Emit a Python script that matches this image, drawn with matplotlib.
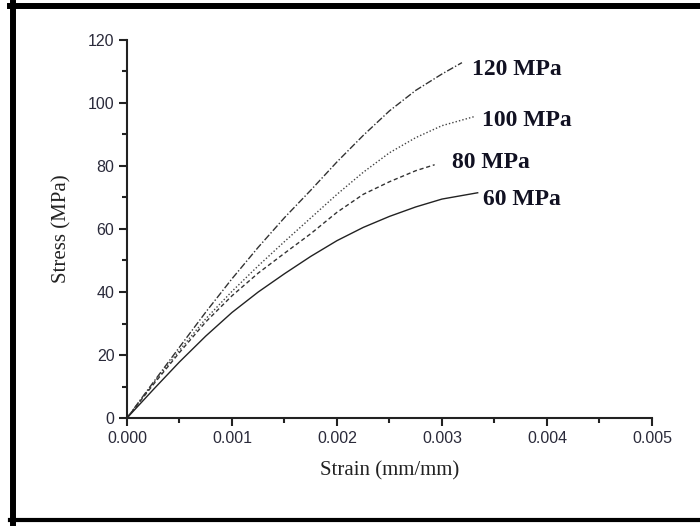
import numpy as np
import matplotlib.pyplot as plt
from matplotlib.lines import Line2D

# stress-strain curves (strain mm/mm, stress MPa)
strain_120 = [0, 0.00025, 0.0005, 0.00075, 0.001, 0.00125, 0.0015, 0.00175, 0.002,
              0.00225, 0.0025, 0.00275, 0.003, 0.00319]
stress_120 = [0, 11.3, 22.5, 33.6, 44.2, 54.2, 63.6, 72.3, 81.3, 89.7, 97.5, 104.0, 109.2, 112.8]

strain_100 = [0, 0.00025, 0.0005, 0.00075, 0.001, 0.00125, 0.0015, 0.00175, 0.002,
              0.00225, 0.0025, 0.00275, 0.003, 0.00331]
stress_100 = [0, 11.0, 21.5, 31.5, 40.2, 48.3, 56.0, 63.5, 71.0, 78.0, 84.2, 89.0, 92.8, 95.7]

strain_80 = [0, 0.00025, 0.0005, 0.00075, 0.001, 0.00125, 0.0015, 0.00175, 0.002,
             0.00225, 0.0025, 0.00275, 0.00293]
stress_80 = [0, 10.6, 20.8, 30.5, 38.8, 46.0, 52.3, 58.5, 65.3, 71.0, 75.0, 78.5, 80.4]

strain_60 = [0, 0.00025, 0.0005, 0.00075, 0.001, 0.00125, 0.0015, 0.00175, 0.002,
             0.00225, 0.0025, 0.00275, 0.003, 0.00334]
stress_60 = [0, 9.0, 17.8, 26.0, 33.5, 40.0, 45.8, 51.3, 56.3, 60.5, 64.0, 67.0, 69.5, 71.5]

labels = ['120 MPa', '100 MPa', '80 MPa', '60 MPa']
label_x = [0.00329, 0.00338, 0.00310, 0.00339]
label_y = [110.5, 94.3, 81.0, 69.5]

fig = plt.figure(figsize=(7, 5.26), dpi=100)
ax = fig.add_axes([0.1814, 0.2053, 0.75, 0.7187])

ax.plot(strain_120, stress_120, color='#333333', lw=1.0, linestyle=(0, (5, 1.5, 1, 1.5)))
ax.plot(strain_100, stress_100, color='#444444', lw=1.0, linestyle=(0, (1, 1.5)))
ax.plot(strain_80, stress_80, color='#333333', lw=1.0, linestyle=(0, (3, 2)))
ax.plot(strain_60, stress_60, color='#222222', lw=1.0, linestyle='-')

for t, x, y in zip(labels, label_x, label_y):
    ax.text(x, y, t, family='Liberation Serif', fontweight='bold', fontsize=17,
            color='#111122', ha='left', va='center')

ax.set_xlim(0, 0.005)
ax.set_ylim(0, 120)
ax.set_xticks(np.arange(0, 0.0051, 0.001))
ax.set_xticks(np.arange(0.0005, 0.005, 0.001), minor=True)
ax.set_yticks(np.arange(0, 121, 20))
ax.set_yticks(np.arange(10, 120, 20), minor=True)
ax.set_xticklabels(['0.000', '0.001', '0.002', '0.003', '0.004', '0.005'])

for s in ['top', 'right']:
    ax.spines[s].set_visible(False)
for s in ['left', 'bottom']:
    ax.spines[s].set_linewidth(1.5)
    ax.spines[s].set_color('#222222')

ax.tick_params(which='major', direction='out', length=6, width=1.5, color='#222222',
               labelsize=11.5, labelcolor='#2a2a3a', pad=3)
ax.tick_params(which='minor', direction='out', length=3.5, width=1.5, color='#222222')
for lab in ax.get_xticklabels() + ax.get_yticklabels():
    lab.set_family('Liberation Sans')

ax.set_xlabel('Strain (mm/mm)', family='Liberation Serif', fontsize=15, color='#222222', labelpad=11)
ax.set_ylabel('Stress (MPa)', family='Liberation Serif', fontsize=15, color='#222222', labelpad=12)

# thick black frame around the picture (right side runs off the image)
W, H = 700.0, 526.0
fig.add_artist(Line2D([13 / W, 13 / W], [1 - 3 / H, 1 - 523 / H], color='black', lw=4.3,
                      transform=fig.transFigure))
fig.add_artist(Line2D([10 / W, 1.0], [1 - 6 / H, 1 - 6 / H], color='black', lw=4.3,
                      transform=fig.transFigure))
fig.add_artist(Line2D([10 / W, 1.0], [1 - 520 / H, 1 - 520 / H], color='black', lw=3.0,
                      transform=fig.transFigure))

fig.savefig('out.png', dpi=100)
